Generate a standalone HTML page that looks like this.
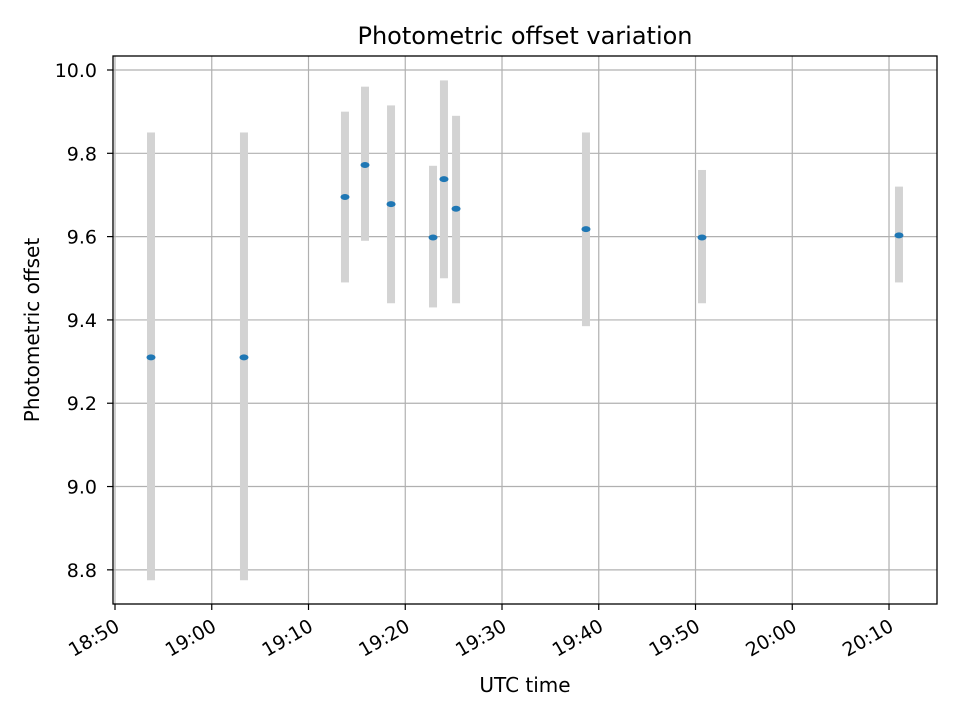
<!DOCTYPE html>
<html><head><meta charset="utf-8"><style>
body{margin:0;background:#fff;font-family:"Liberation Sans","DejaVu Sans",sans-serif}
svg text{font-family:"DejaVu Sans","Liberation Sans",sans-serif;fill:#000}
</style></head><body>
<svg id="chart" width="960" height="720" xmlns="http://www.w3.org/2000/svg">
<rect width="960" height="720" fill="#fff"/>
<g id="grid"></g><g id="marks"></g><g id="axes"></g>
<text x="525" y="44" font-size="24" text-anchor="middle">Photometric offset variation</text>
<text x="525" y="692" font-size="20" text-anchor="middle">UTC time</text>
<text x="39" y="330" font-size="20" text-anchor="middle" transform="rotate(-90 39 330)">Photometric offset</text>
</svg>
<script>
// minutes after 18:50
const times=[3.72,13.33,23.77,25.84,28.53,32.87,34.0,35.25,48.68,60.67,81.03];
const offsets=[9.31,9.31,9.695,9.772,9.678,9.598,9.738,9.667,9.618,9.598,9.603];
const lowers=[8.775,8.775,9.49,9.59,9.44,9.43,9.50,9.44,9.385,9.44,9.49];
const uppers=[9.85,9.85,9.90,9.96,9.915,9.77,9.975,9.89,9.85,9.76,9.72];
const xTicks=[0,10,20,30,40,50,60,70,80];
const xTickLabels=["18:50","19:00","19:10","19:20","19:30","19:40","19:50","20:00","20:10"];
const yTicks=[8.8,9.0,9.2,9.4,9.6,9.8,10.0];
const yTickLabels=["8.8","9.0","9.2","9.4","9.6","9.8","10.0"];
const L=113,R=937,T=56,B=604;
const xMin=-0.207,xMax=84.96,yMin=8.718,yMax=10.0336;
const xs=v=>L+(v-xMin)/(xMax-xMin)*(R-L);
const ys=v=>B-(v-yMin)/(yMax-yMin)*(B-T);
const NS="http://www.w3.org/2000/svg";
function mk(tag,attrs,parent){const e=document.createElementNS(NS,tag);for(const k in attrs)e.setAttribute(k,attrs[k]);parent.appendChild(e);return e;}
const grid=document.getElementById('grid'),marks=document.getElementById('marks'),axes=document.getElementById('axes');
xTicks.forEach((t,i)=>{const x=xs(t);
const g=mk('line',{x1:x,x2:x,y1:T,y2:B,stroke:'#b0b0b0','stroke-width':1.2},grid);


mk('line',{x1:x,x2:x,y1:B,y2:B+6,stroke:'#000','stroke-width':1.2},axes);
const ax=x-1,ay=B+14;
const tx=mk('text',{x:ax,y:ay,'font-size':19,'text-anchor':'end','dominant-baseline':'hanging',transform:`rotate(-30 ${ax} ${ay})`},axes);
tx.textContent=xTickLabels[i];

});
yTicks.forEach((t,i)=>{const y=ys(t);
const g=mk('line',{x1:L,x2:R,y1:y,y2:y,stroke:'#b0b0b0','stroke-width':1.2},grid);


mk('line',{x1:L-6,x2:L,y1:y,y2:y,stroke:'#000','stroke-width':1.2},axes);
const tx=mk('text',{x:L-16,y:y+7,'font-size':19,'text-anchor':'end'},axes);
tx.textContent=yTickLabels[i];

});
times.forEach((t,i)=>{const x=xs(t);
const eb=mk('rect',{x:x-4,y:ys(uppers[i]),width:8,height:ys(lowers[i])-ys(uppers[i]),fill:'#d3d3d3'},marks);

});
times.forEach((t,i)=>{
const p=mk('ellipse',{cx:xs(t),cy:ys(offsets[i]),rx:4.5,ry:3,fill:'#1f77b4'},marks);

});
const f=mk('rect',{x:L,y:T,width:R-L,height:B-T,fill:'none',stroke:'#000','stroke-width':1.3},axes);


</script>
</body></html>
